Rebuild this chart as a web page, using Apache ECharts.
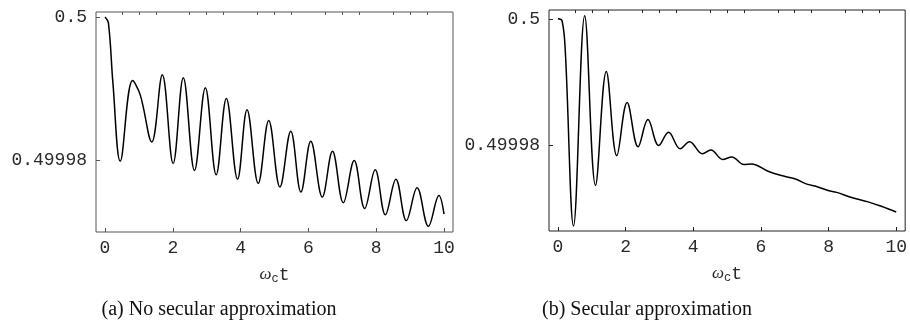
<!DOCTYPE html>
<html>
<head>
<meta charset="utf-8">
<script src="https://cdn.jsdelivr.net/npm/echarts@6/dist/echarts.min.js"></script>
<style>
  html, body { margin: 0; padding: 0; background: #fff; }
  #chart { width: 910px; height: 336px; }
</style>
</head>
<body>
<div id="chart"></div>
<script>
// (a) no secular approximation: start, shoulder and the turning points
const tA = [0, 0.1, 0.235, 0.45, 0.815, 1.04, 1.38, 1.69, 2.01, 2.31, 2.64, 2.96, 3.28, 3.58, 3.91, 4.19,
  4.52, 4.83, 5.16, 5.48, 5.78, 6.07, 6.41, 6.71, 7.03, 7.35, 7.66, 7.97, 8.27, 8.58, 8.89, 9.205, 9.54,
  9.85, 10];
const popA = [0.5, 0.4999992, 0.4999907, 0.4999798, 0.4999911, 0.4999891, 0.4999825, 0.4999919, 0.4999795,
  0.4999915, 0.4999785, 0.4999901, 0.4999779, 0.4999886, 0.4999773, 0.499987, 0.4999767, 0.4999855,
  0.4999762, 0.499984, 0.4999755, 0.4999826, 0.4999748, 0.4999812, 0.499974, 0.4999799, 0.4999732,
  0.4999786, 0.4999723, 0.4999773, 0.4999715, 0.4999761, 0.4999707, 0.499975, 0.4999724];

// (b) secular approximation
const tB = [0, 0.12, 0.215, 0.46, 0.79, 1.11, 1.43, 1.74, 2.045, 2.37, 2.66, 2.98, 3.27, 3.61, 3.89, 4.27,
  4.52, 4.87, 5.14, 5.50, 5.72, 6.23, 6.72, 7.02, 7.36, 7.60, 7.99, 8.24, 8.68, 9.17, 9.56, 10];
const popB = [0.5, 0.4999997, 0.4999951, 0.4999673, 0.5000005, 0.4999737, 0.4999917, 0.4999784, 0.4999868,
  0.4999798, 0.4999841, 0.49998, 0.4999821, 0.4999795, 0.4999806, 0.4999787, 0.4999793, 0.4999778,
  0.4999782, 0.499977, 0.4999771, 0.4999759, 0.4999751, 0.4999747, 0.4999739, 0.4999736, 0.4999729,
  0.4999726, 0.4999718, 0.4999711, 0.4999704, 0.4999695];

const xMajor = [0, 2, 4, 6, 8, 10];
const xMinor = [0.5, 1, 1.5, 2.5, 3, 3.5, 4.5, 5, 5.5, 6.5, 7, 7.5, 8.5, 9, 9.5];
const yTicks = [0.49998, 0.5];
const yTickLabels = ['0.49998', '0.5'];
const captions = ['(a) No secular approximation', '(b) Secular approximation'];

const mono = '"Liberation Mono", "DejaVu Sans Mono", monospace';

function xAxes(gridIndex, frame) {
  const base = {
    type: 'value', gridIndex, min: -0.265, max: 10.265,
    splitLine: { show: false }, axisLine: { show: false, onZero: false },
  };
  return [
    {
      ...base,
      axisTick: { inside: true, length: 4, customValues: xMajor, lineStyle: { color: frame } },
      axisLabel: { customValues: xMajor, margin: 7, fontFamily: mono, fontSize: 18, color: '#2a2a2a' },
      name: '{w|ω}{c|c}{t|t}',
      nameLocation: 'middle',
      nameGap: 34,
      nameTextStyle: {
        rich: {
          w: { fontFamily: '"Liberation Serif"', fontStyle: 'italic', fontSize: 17, color: '#2a2a2a', lineHeight: 18 },
          c: { fontFamily: mono, fontSize: 12, color: '#2a2a2a', lineHeight: 18, padding: [8, 0, 0, 0] },
          t: { fontFamily: mono, fontSize: 18, color: '#2a2a2a', lineHeight: 18 },
        },
      },
    },
    {
      ...base,
      axisTick: { inside: true, length: 3, customValues: xMinor, lineStyle: { color: frame } },
      axisLabel: { show: false },
    },
  ];
}

function yAxis(gridIndex, min, max, frame) {
  return {
    type: 'value', gridIndex, min, max,
    splitLine: { show: false },
    axisLine: { show: false, onZero: false },
    axisTick: { inside: true, length: 4, customValues: yTicks, lineStyle: { color: frame } },
    axisLabel: {
      customValues: yTicks, margin: 9, fontFamily: mono, fontSize: 18, color: '#2a2a2a',
      formatter: v => yTickLabels[yTicks.indexOf(v)] ?? String(v),
    },
  };
}

// turning points only, so a low smooth value gives sine-like arcs between them
function curve(xIdx, yIdx, t, p) {
  return {
    type: 'line', xAxisIndex: xIdx, yAxisIndex: yIdx,
    showSymbol: false, smooth: 0.38, animation: false,
    lineStyle: { color: '#000', width: 1.5 },
    data: t.map((v, i) => [v, p[i]]),
  };
}

const chart = echarts.init(document.getElementById('chart'));
chart.setOption({
  backgroundColor: '#fff',
  animation: false,
  grid: [
    { left: 96, top: 12, width: 357, height: 220, show: true, borderColor: '#555', borderWidth: 1, backgroundColor: 'transparent' },
    { left: 549, top: 10, width: 358, height: 221, show: true, borderColor: '#222', borderWidth: 1, backgroundColor: 'transparent' },
  ],
  xAxis: [...xAxes(0, '#555'), ...xAxes(1, '#222')],
  yAxis: [yAxis(0, 0.4999699, 0.5000007, '#555'), yAxis(1, 0.4999665, 0.5000014, '#222')],
  series: [curve(0, 0, tA, popA), curve(2, 1, tB, popB)],
  graphic: [
    { type: 'text', x: 219, y: 310, style: { text: captions[0], font: '20px "Liberation Serif"', fill: '#111', align: 'center', verticalAlign: 'middle' } },
    { type: 'text', x: 647, y: 310, style: { text: captions[1], font: '20px "Liberation Serif"', fill: '#111', align: 'center', verticalAlign: 'middle' } },
  ],
});
</script>
</body>
</html>
